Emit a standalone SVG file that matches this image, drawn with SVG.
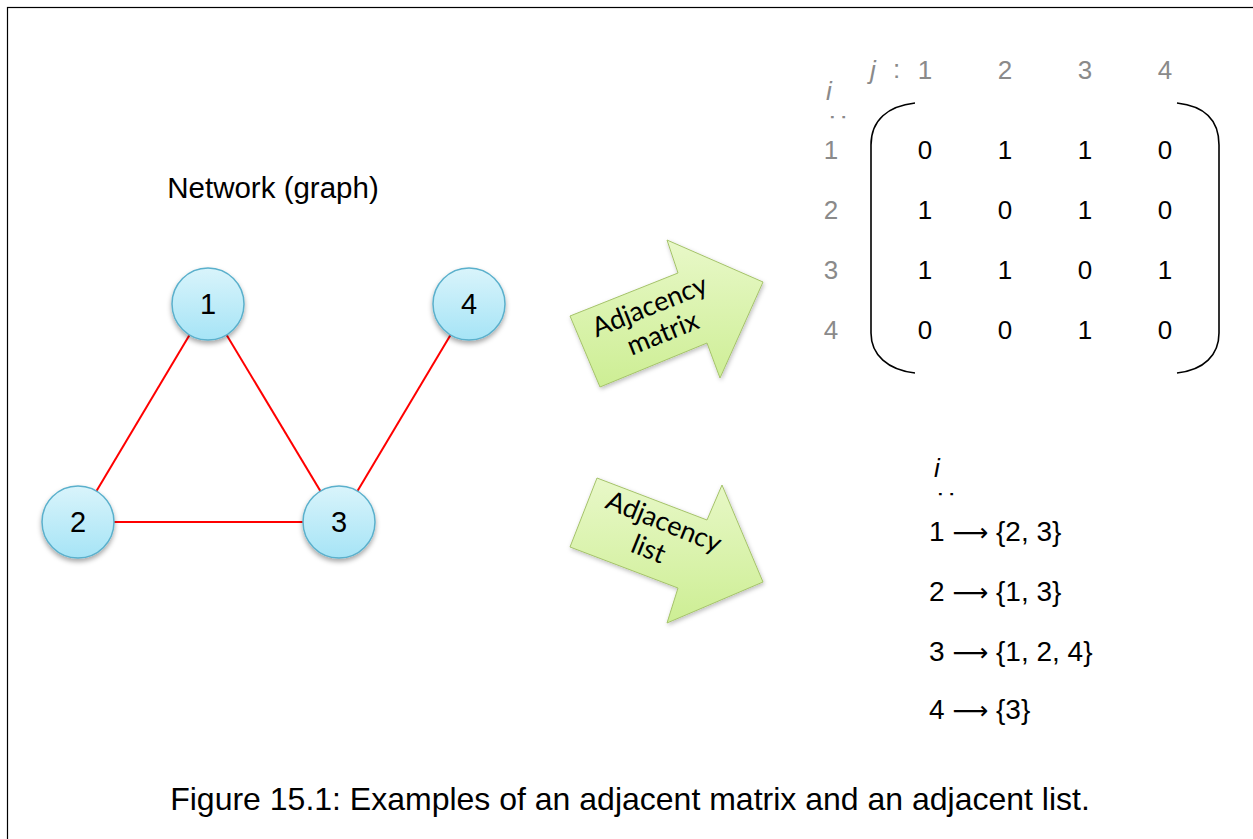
<svg xmlns="http://www.w3.org/2000/svg" width="1253" height="839" viewBox="0 0 1253 839">
<defs>
<linearGradient id="nodeGrad" x1="0" y1="0" x2="0" y2="1">
<stop offset="0" stop-color="#d9f4fb"/>
<stop offset="1" stop-color="#a6e4f6"/>
</linearGradient>
<linearGradient id="arrowGrad" x1="0" y1="0" x2="0" y2="1">
<stop offset="0" stop-color="#e8f8c8"/>
<stop offset="1" stop-color="#cdee94"/>
</linearGradient>
<filter id="shadow" x="-30%" y="-30%" width="160%" height="170%">
<feDropShadow dx="0" dy="3" stdDeviation="2.5" flood-color="#000" flood-opacity="0.35"/>
</filter>
<filter id="ashadow" x="-20%" y="-20%" width="140%" height="140%">
<feDropShadow dx="1" dy="2" stdDeviation="2" flood-color="#000" flood-opacity="0.25"/>
</filter>
</defs>
<style>
.node circle{fill:url(#nodeGrad);stroke:#5ab0cc;stroke-width:1.5;filter:url(#shadow)}
.lbl{font-family:"Liberation Sans",Arial,sans-serif;fill:#000}
.nl{font-size:29px;text-anchor:middle}
.edge{stroke:#ff0000;stroke-width:2;fill:none}
.gray{fill:#8a8a8a}
.mx{font-size:26px;text-anchor:middle}
.arr{fill:url(#arrowGrad);stroke:#a5c36a;stroke-width:1;filter:url(#ashadow)}
.at{font-family:Lato,Calibri,sans-serif;font-size:27px;text-anchor:middle;fill:#000}
.br{fill:none;stroke:#000;stroke-width:1.6}
.ls{font-size:28px}
.ar{font-family:"DejaVu Sans",sans-serif;font-size:25px}
</style>
<rect x="7.5" y="7.5" width="1300" height="900" fill="#fff" stroke="#000" stroke-width="1.2"/>

<text class="lbl" x="273" y="198" font-size="29.5" text-anchor="middle">Network (graph)</text>

<g id="connectors">
<line class="edge" x1="208" y1="304" x2="78" y2="522"/>
<line class="edge" x1="208" y1="304" x2="339" y2="522"/>
<line class="edge" x1="78" y1="522" x2="339" y2="522"/>
<line class="edge" x1="339" y1="522" x2="469" y2="304"/>
</g>

<g id="node1" class="node"><circle cx="208" cy="304" r="36"/><text class="lbl nl" x="208" y="314">1</text></g>
<g id="node4" class="node"><circle cx="469" cy="304" r="36"/><text class="lbl nl" x="469" y="314">4</text></g>
<g id="node2" class="node"><circle cx="78" cy="522" r="36"/><text class="lbl nl" x="78" y="532">2</text></g>
<g id="node3" class="node"><circle cx="339" cy="522" r="36"/><text class="lbl nl" x="339" y="532">3</text></g>

<g id="arrow-matrix">
<polygon class="arr" points="570,316 678,273 667,240 763,282 720,378 707,343 600,387"/>
<text class="at" transform="translate(656,322) rotate(-22)"><tspan x="0" y="-8">Adjacency</tspan><tspan x="2" y="22">matrix</tspan></text>
</g>
<g id="arrow-list">
<polygon class="arr" points="597,478 707,520 722,485 763,582 667,623 678,588 570,547"/>
<text class="at" transform="translate(659,534) rotate(22)"><tspan x="0" y="-4">Adjacency</tspan><tspan x="-4" y="27">list</tspan></text>
</g>

<g id="matrix">
<text class="lbl gray" x="870" y="79" font-size="26" font-style="italic">j</text>
<text class="lbl gray" x="893" y="78" font-size="26">:</text>
<text class="lbl gray mx" x="925" y="79">1</text>
<text class="lbl gray mx" x="1005" y="79">2</text>
<text class="lbl gray mx" x="1085" y="79">3</text>
<text class="lbl gray mx" x="1165" y="79">4</text>
<text class="lbl gray" x="826" y="100" font-size="26" font-style="italic">i</text>
<text class="lbl gray" font-size="26" transform="translate(831,117) rotate(90)" text-anchor="middle">:</text>
<text class="lbl gray mx" x="831" y="159">1</text>
<text class="lbl gray mx" x="831" y="219">2</text>
<text class="lbl gray mx" x="831" y="279">3</text>
<text class="lbl gray mx" x="831" y="339">4</text>
<path class="br" d="M915,103 C888,106 871,120 871,145 L871,333 C871,355 888,370 915,373"/>
<path class="br" d="M1177,103 C1204,106 1219,120 1219,145 L1219,333 C1219,355 1204,370 1177,373"/>
<text class="lbl mx" x="925" y="159">0</text><text class="lbl mx" x="1005" y="159">1</text><text class="lbl mx" x="1085" y="159">1</text><text class="lbl mx" x="1165" y="159">0</text>
<text class="lbl mx" x="925" y="219">1</text><text class="lbl mx" x="1005" y="219">0</text><text class="lbl mx" x="1085" y="219">1</text><text class="lbl mx" x="1165" y="219">0</text>
<text class="lbl mx" x="925" y="279">1</text><text class="lbl mx" x="1005" y="279">1</text><text class="lbl mx" x="1085" y="279">0</text><text class="lbl mx" x="1165" y="279">1</text>
<text class="lbl mx" x="925" y="339">0</text><text class="lbl mx" x="1005" y="339">0</text><text class="lbl mx" x="1085" y="339">1</text><text class="lbl mx" x="1165" y="339">0</text>
</g>

<g id="list">
<text class="lbl" x="934" y="477" font-size="26" font-style="italic">i</text>
<text class="lbl" font-size="26" transform="translate(939,494) rotate(90)" text-anchor="middle">:</text>
<text class="lbl ls" x="929" y="541">1 <tspan class="ar">⟶</tspan> {2, 3}</text>
<text class="lbl ls" x="929" y="601">2 <tspan class="ar">⟶</tspan> {1, 3}</text>
<text class="lbl ls" x="929" y="661">3 <tspan class="ar">⟶</tspan> {1, 2, 4}</text>
<text class="lbl ls" x="929" y="719">4 <tspan class="ar">⟶</tspan> {3}</text>
</g>

<text class="lbl" x="630" y="810" font-size="32" text-anchor="middle">Figure 15.1: Examples of an adjacent matrix and an adjacent list.</text>
</svg>
